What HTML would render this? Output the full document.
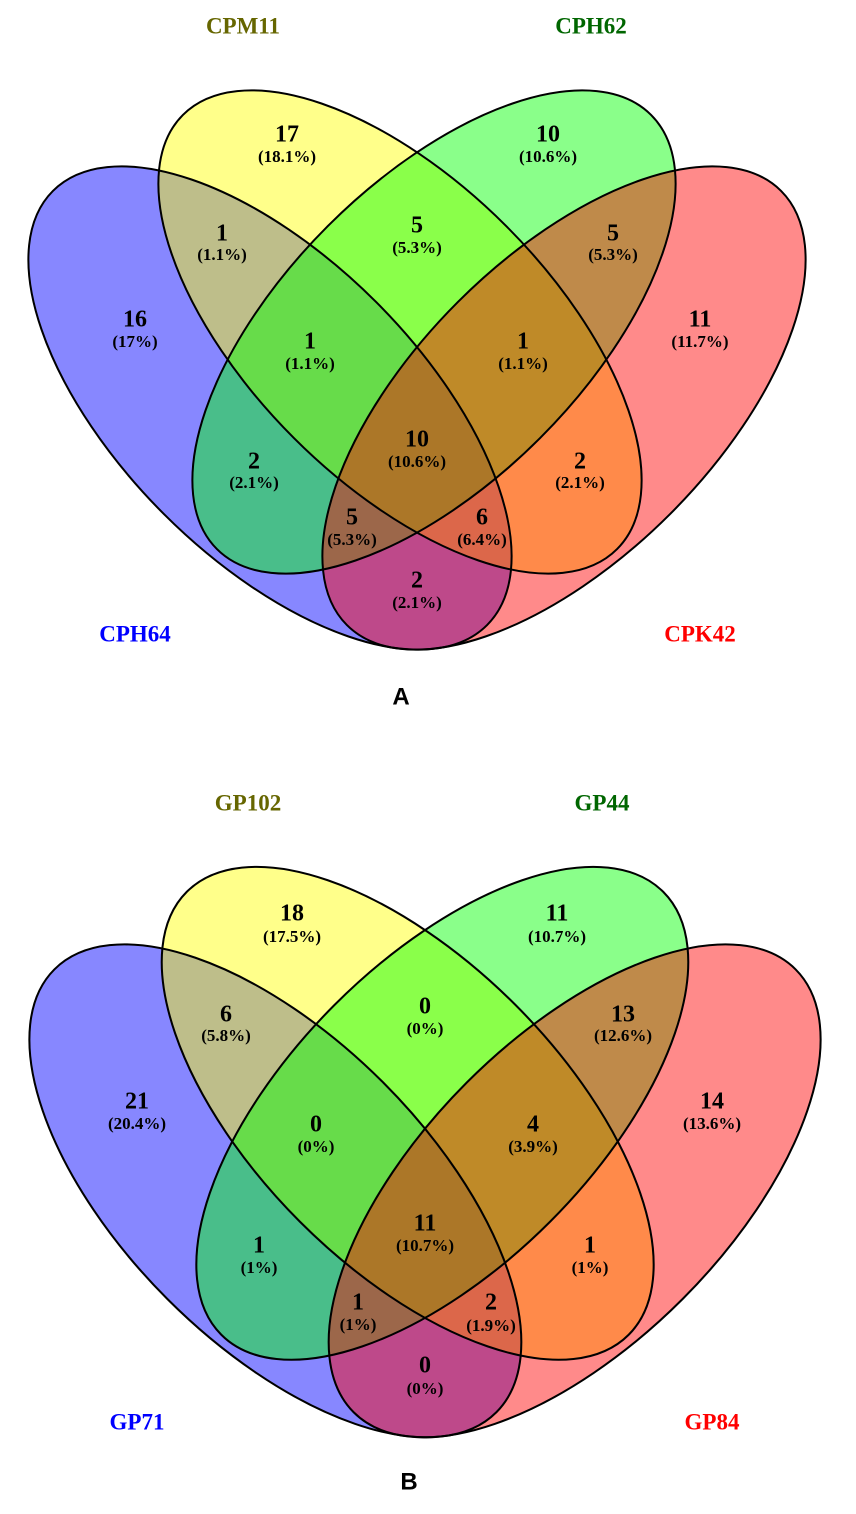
<!DOCTYPE html>
<html><head><meta charset="utf-8"><style>
html,body{margin:0;padding:0;background:#fff;}
svg{display:block;}
.n{font-family:"Liberation Serif",serif;font-weight:bold;font-size:24px;fill:#000;text-anchor:middle;dominant-baseline:middle;}
.p{font-family:"Liberation Serif",serif;font-weight:bold;font-size:17px;fill:#000;text-anchor:middle;dominant-baseline:middle;}
.l{font-family:"Liberation Serif",serif;font-weight:bold;font-size:23px;text-anchor:middle;dominant-baseline:middle;}
.t{font-family:"Liberation Sans",sans-serif;font-weight:bold;font-size:24px;text-anchor:middle;dominant-baseline:middle;}
</style></head><body>
<svg width="856" height="1514" viewBox="0 0 856 1514" xmlns="http://www.w3.org/2000/svg">
<defs>
<g id="venn">
<ellipse cx="270" cy="408" rx="307" ry="150" transform="rotate(45 270 408)" fill="#0000ff" fill-opacity="0.47"/>
<ellipse cx="400" cy="332" rx="307" ry="150" transform="rotate(45 400 332)" fill="#ffff00" fill-opacity="0.46"/>
<ellipse cx="434" cy="332" rx="307" ry="150" transform="rotate(-45 434 332)" fill="#00ff00" fill-opacity="0.46"/>
<ellipse cx="564" cy="408" rx="307" ry="150" transform="rotate(-45 564 408)" fill="#ff0000" fill-opacity="0.46"/>
<g fill="none" stroke="#000" stroke-width="2">
<ellipse cx="270" cy="408" rx="307" ry="150" transform="rotate(45 270 408)"/>
<ellipse cx="400" cy="332" rx="307" ry="150" transform="rotate(45 400 332)"/>
<ellipse cx="434" cy="332" rx="307" ry="150" transform="rotate(-45 434 332)"/>
<ellipse cx="564" cy="408" rx="307" ry="150" transform="rotate(-45 564 408)"/>
</g>
</g>
</defs>
<use href="#venn"/>
<g transform="translate(425,944) scale(1.018,1.02) translate(-417,-166)"><use href="#venn"/></g>

<text class="l" x="243" y="28" fill="#666600">CPM11</text>
<text class="l" x="591" y="28" fill="#006600">CPH62</text>
<text class="l" x="135" y="636" fill="#0000ff">CPH64</text>
<text class="l" x="700" y="636" fill="#ff0000">CPK42</text>
<text class="t" x="401" y="698" fill="#000">A</text>

<text class="n" x="287" y="136">17</text><text class="p" x="287" y="158">(18.1%)</text>
<text class="n" x="548" y="136">10</text><text class="p" x="548" y="158">(10.6%)</text>
<text class="n" x="222" y="235">1</text><text class="p" x="222" y="256">(1.1%)</text>
<text class="n" x="417" y="227">5</text><text class="p" x="417" y="249">(5.3%)</text>
<text class="n" x="613" y="235">5</text><text class="p" x="613" y="256">(5.3%)</text>
<text class="n" x="135" y="321">16</text><text class="p" x="135" y="343">(17%)</text>
<text class="n" x="310" y="343">1</text><text class="p" x="310" y="365">(1.1%)</text>
<text class="n" x="523" y="343">1</text><text class="p" x="523" y="365">(1.1%)</text>
<text class="n" x="700" y="321">11</text><text class="p" x="700" y="343">(11.7%)</text>
<text class="n" x="417" y="441">10</text><text class="p" x="417" y="463">(10.6%)</text>
<text class="n" x="254" y="463">2</text><text class="p" x="254" y="484">(2.1%)</text>
<text class="n" x="580" y="463">2</text><text class="p" x="580" y="484">(2.1%)</text>
<text class="n" x="352" y="519">5</text><text class="p" x="352" y="541">(5.3%)</text>
<text class="n" x="482" y="519">6</text><text class="p" x="482" y="541">(6.4%)</text>
<text class="n" x="417" y="582">2</text><text class="p" x="417" y="604">(2.1%)</text>

<text class="l" x="248" y="805" fill="#666600">GP102</text>
<text class="l" x="602" y="805" fill="#006600">GP44</text>
<text class="l" x="137" y="1424" fill="#0000ff">GP71</text>
<text class="l" x="712" y="1424" fill="#ff0000">GP84</text>
<text class="t" x="409" y="1483" fill="#000">B</text>

<text class="n" x="292" y="915">18</text><text class="p" x="292" y="938">(17.5%)</text>
<text class="n" x="557" y="915">11</text><text class="p" x="557" y="938">(10.7%)</text>
<text class="n" x="226" y="1016">6</text><text class="p" x="226" y="1037">(5.8%)</text>
<text class="n" x="425" y="1008">0</text><text class="p" x="425" y="1030">(0%)</text>
<text class="n" x="623" y="1016">13</text><text class="p" x="623" y="1037">(12.6%)</text>
<text class="n" x="137" y="1103">21</text><text class="p" x="137" y="1125">(20.4%)</text>
<text class="n" x="316" y="1126">0</text><text class="p" x="316" y="1148">(0%)</text>
<text class="n" x="533" y="1126">4</text><text class="p" x="533" y="1148">(3.9%)</text>
<text class="n" x="712" y="1103">14</text><text class="p" x="712" y="1125">(13.6%)</text>
<text class="n" x="425" y="1225">11</text><text class="p" x="425" y="1247">(10.7%)</text>
<text class="n" x="259" y="1247">1</text><text class="p" x="259" y="1269">(1%)</text>
<text class="n" x="590" y="1247">1</text><text class="p" x="590" y="1269">(1%)</text>
<text class="n" x="358" y="1304">1</text><text class="p" x="358" y="1326">(1%)</text>
<text class="n" x="491" y="1304">2</text><text class="p" x="491" y="1327">(1.9%)</text>
<text class="n" x="425" y="1367">0</text><text class="p" x="425" y="1390">(0%)</text>
</svg>
</body></html>
